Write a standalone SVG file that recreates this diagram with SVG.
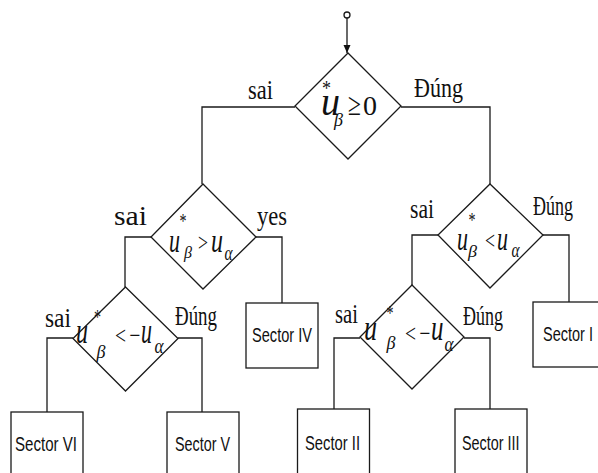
<svg xmlns="http://www.w3.org/2000/svg" width="598" height="473" viewBox="0 0 598 473">
  <defs>
    <marker id="arrow" viewBox="0 0 8 14" refX="8" refY="7" markerWidth="8" markerHeight="14" markerUnits="userSpaceOnUse" orient="auto">
      <path d="M0,3.5 L8,7 L0,10.5 Z" fill="#111"/>
    </marker>
    <style>
      .shape { fill: #fff; stroke: #1a1a1a; stroke-width: 1.3; }
      .wire { fill: none; stroke: #1a1a1a; stroke-width: 1.3; }
      .lbl { font-family: "Liberation Serif", "Times New Roman", serif; font-size: 28px; fill: #111; }
      .box { font-family: "Liberation Sans", Arial, sans-serif; font-size: 21px; fill: #111; }
      .mi { font-family: "Liberation Serif", "Times New Roman", serif; font-style: italic; fill: #111; }
      .mo { font-family: "Liberation Serif", "Times New Roman", serif; fill: #111; }
    </style>
  </defs>

  <!-- connectors -->
  <g id="connectors">
    <circle cx="347" cy="15" r="3" class="wire"/>
    <line x1="347" y1="18" x2="347" y2="53" class="wire" marker-end="url(#arrow)"/>
    <polyline points="295,107 202,107 202,184" class="wire"/>
    <polyline points="401,107 490,107 490,184" class="wire"/>
    <polyline points="151,237 125,237 125,287" class="wire"/>
    <polyline points="256,237 282,237 282,303" class="wire"/>
    <polyline points="73,338 47,338 47,412" class="wire"/>
    <polyline points="178,338 202,338 202,412" class="wire"/>
    <polyline points="438,235 412,235 412,285" class="wire"/>
    <polyline points="543,235 569,235 569,302" class="wire"/>
    <polyline points="360,338 334,338 334,409" class="wire"/>
    <polyline points="464,338 490,338 490,409" class="wire"/>
  </g>

  <!-- branch labels -->
  <g id="labels">
    <text class="lbl" x="248" y="99" font-size="30" textLength="25" lengthAdjust="spacingAndGlyphs">sai</text>
    <text class="lbl" x="414" y="97" font-size="30" textLength="49" lengthAdjust="spacingAndGlyphs">Đúng</text>
    <text class="lbl" x="114" y="225" textLength="33" lengthAdjust="spacingAndGlyphs">sai</text>
    <text class="lbl" x="257" y="225" textLength="30" lengthAdjust="spacingAndGlyphs">yes</text>
    <text class="lbl" x="410" y="218" textLength="24" lengthAdjust="spacingAndGlyphs">sai</text>
    <text class="lbl" x="533" y="215" textLength="40" lengthAdjust="spacingAndGlyphs">Đúng</text>
    <text class="lbl" x="45" y="327" textLength="26" lengthAdjust="spacingAndGlyphs">sai</text>
    <text class="lbl" x="175" y="325" textLength="42" lengthAdjust="spacingAndGlyphs">Đúng</text>
    <text class="lbl" x="335" y="323" textLength="23" lengthAdjust="spacingAndGlyphs">sai</text>
    <text class="lbl" x="463" y="325" textLength="40" lengthAdjust="spacingAndGlyphs">Đúng</text>
  </g>

  <!-- decision: u*β ≥ 0 -->
  <g id="d1">
    <polygon points="348,53 401,106 348,159 295,106" class="shape"/>
    <text class="mi" x="321" y="115" font-size="40" textLength="19" lengthAdjust="spacingAndGlyphs">u</text>
    <text class="mo" x="322" y="95" font-size="22" textLength="9" lengthAdjust="spacingAndGlyphs">*</text>
    <text class="mi" x="334" y="126" font-size="19" textLength="9" lengthAdjust="spacingAndGlyphs">β</text>
    <text class="mo" x="348" y="115" font-size="32" textLength="13" lengthAdjust="spacingAndGlyphs">≥</text>
    <text class="mo" x="363" y="115" font-size="27" textLength="14" lengthAdjust="spacingAndGlyphs">0</text>
  </g>

  <!-- decision: u*β > uα -->
  <g id="d2">
    <polygon points="203,184 256,237 203,289 151,237" class="shape"/>
    <text class="mi" x="169" y="252" font-size="34" textLength="11" lengthAdjust="spacingAndGlyphs">u</text>
    <text class="mo" x="179.5" y="228" font-size="20" textLength="7" lengthAdjust="spacingAndGlyphs">*</text>
    <text class="mi" x="184" y="258" font-size="17" textLength="8" lengthAdjust="spacingAndGlyphs">β</text>
    <text class="mo" x="198" y="251" font-size="26" textLength="10" lengthAdjust="spacingAndGlyphs">&gt;</text>
    <text class="mi" x="211" y="252" font-size="34" textLength="12" lengthAdjust="spacingAndGlyphs">u</text>
    <text class="mi" x="224.5" y="260" font-size="20" textLength="8" lengthAdjust="spacingAndGlyphs">α</text>
  </g>

  <!-- decision: u*β < uα -->
  <g id="d4">
    <polygon points="490,184 543,235 490,288 438,235" class="shape"/>
    <text class="mi" x="457" y="250" font-size="34" textLength="11" lengthAdjust="spacingAndGlyphs">u</text>
    <text class="mo" x="468.5" y="227" font-size="20" textLength="7" lengthAdjust="spacingAndGlyphs">*</text>
    <text class="mi" x="468" y="257" font-size="17" textLength="9" lengthAdjust="spacingAndGlyphs">β</text>
    <text class="mo" x="485" y="249" font-size="26" textLength="10" lengthAdjust="spacingAndGlyphs">&lt;</text>
    <text class="mi" x="497" y="250" font-size="34" textLength="11" lengthAdjust="spacingAndGlyphs">u</text>
    <text class="mi" x="511.5" y="257" font-size="20" textLength="8" lengthAdjust="spacingAndGlyphs">α</text>
  </g>

  <!-- decision: u*β < -uα (left) -->
  <g id="d3">
    <polygon points="125.5,287 178,338.5 125.5,391 73,338.5" class="shape"/>
    <text class="mi" x="76" y="343" font-size="36" textLength="12" lengthAdjust="spacingAndGlyphs">u</text>
    <text class="mo" x="94" y="324" font-size="20" textLength="7" lengthAdjust="spacingAndGlyphs">*</text>
    <text class="mi" x="96.5" y="358" font-size="19" textLength="9" lengthAdjust="spacingAndGlyphs">β</text>
    <text class="mo" x="115" y="344" font-size="26" textLength="11" lengthAdjust="spacingAndGlyphs">&lt;</text>
    <text class="mo" x="129.5" y="344" font-size="26" textLength="11" lengthAdjust="spacingAndGlyphs">−</text>
    <text class="mi" x="141" y="343" font-size="36" textLength="11" lengthAdjust="spacingAndGlyphs">u</text>
    <text class="mi" x="154.5" y="353" font-size="20" textLength="9" lengthAdjust="spacingAndGlyphs">α</text>
  </g>

  <!-- decision: u*β < -uα (right) -->
  <g id="d5">
    <polygon points="412,285 464,337 412,389 360,337" class="shape"/>
    <text class="mi" x="364" y="340" font-size="36" textLength="13" lengthAdjust="spacingAndGlyphs">u</text>
    <text class="mo" x="386.5" y="320" font-size="20" textLength="7" lengthAdjust="spacingAndGlyphs">*</text>
    <text class="mi" x="386.5" y="349" font-size="19" textLength="9" lengthAdjust="spacingAndGlyphs">β</text>
    <text class="mo" x="405" y="342" font-size="26" textLength="11" lengthAdjust="spacingAndGlyphs">&lt;</text>
    <text class="mo" x="419.5" y="342" font-size="26" textLength="11" lengthAdjust="spacingAndGlyphs">−</text>
    <text class="mi" x="431" y="340" font-size="36" textLength="12.5" lengthAdjust="spacingAndGlyphs">u</text>
    <text class="mi" x="444.5" y="351" font-size="20" textLength="9" lengthAdjust="spacingAndGlyphs">α</text>
  </g>

  <!-- sector boxes -->
  <g id="s4">
    <rect x="246" y="303" width="72" height="65" class="shape"/>
    <text class="box" x="252" y="342" textLength="60" lengthAdjust="spacingAndGlyphs">Sector IV</text>
  </g>
  <g id="s1">
    <rect x="533" y="302" width="72" height="65" class="shape"/>
    <text class="box" x="543" y="341" textLength="50" lengthAdjust="spacingAndGlyphs">Sector I</text>
  </g>
  <g id="s6">
    <rect x="11" y="412" width="72" height="70" class="shape"/>
    <text class="box" x="15" y="451" textLength="62" lengthAdjust="spacingAndGlyphs">Sector VI</text>
  </g>
  <g id="s5">
    <rect x="167" y="412" width="72" height="70" class="shape"/>
    <text class="box" x="175" y="451" textLength="55" lengthAdjust="spacingAndGlyphs">Sector V</text>
  </g>
  <g id="s2">
    <rect x="297.5" y="409" width="72" height="70" class="shape"/>
    <text class="box" x="305" y="450" textLength="55" lengthAdjust="spacingAndGlyphs">Sector II</text>
  </g>
  <g id="s3">
    <rect x="455" y="409" width="72" height="70" class="shape"/>
    <text class="box" x="462" y="450" textLength="57.5" lengthAdjust="spacingAndGlyphs">Sector III</text>
  </g>
</svg>
